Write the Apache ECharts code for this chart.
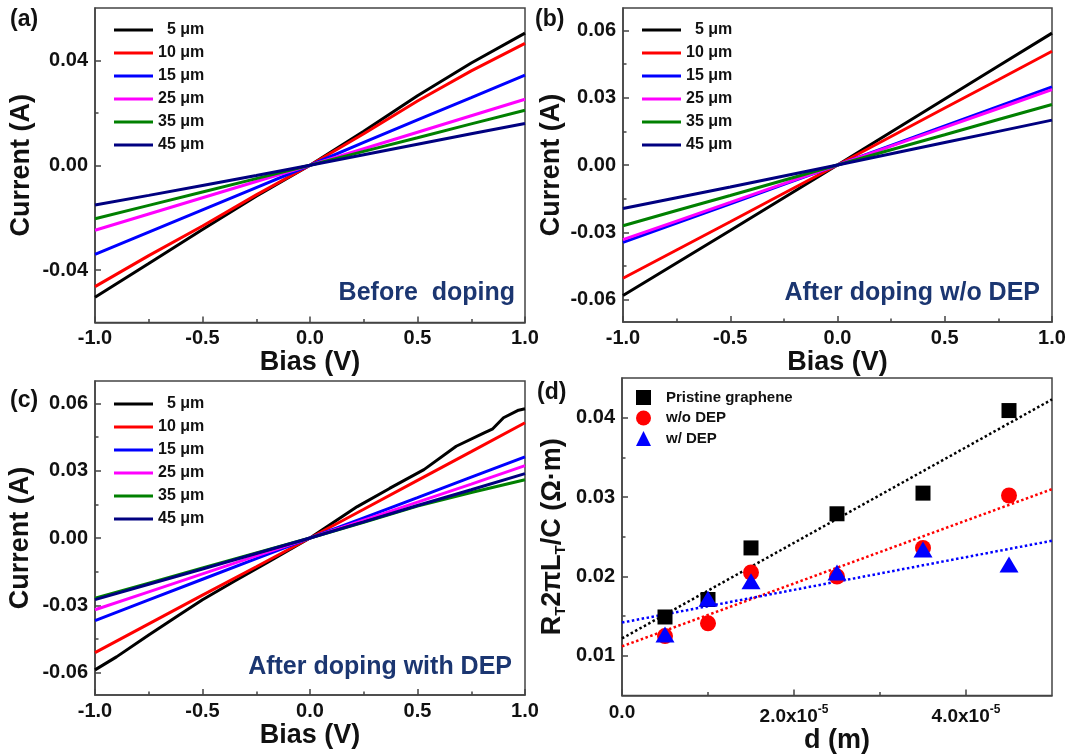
<!DOCTYPE html>
<html>
<head>
<meta charset="utf-8">
<script src="https://cdn.jsdelivr.net/npm/echarts@6/dist/echarts.min.js"></script>
<style>
html, body { margin: 0; padding: 0; background: #fff; }
#chart { width: 1072px; height: 755px; }
</style>
</head>
<body>
<div id="chart"></div>
<script>
// I-V sweeps, bias in V, current in A
var biasV = [-1, -0.75, -0.5, -0.25, 0, 0.25, 0.5, 0.75, 1];
var widths = ['5 μm', '10 μm', '15 μm', '25 μm', '35 μm', '45 μm'];
var lineColors = ['#000000', '#ff0000', '#0000ff', '#ff00ff', '#008000', '#000080'];

// (a) before doping
var curA5  = [-0.0504, -0.0375, -0.0245, -0.0118, 0, 0.0130, 0.0265, 0.0390, 0.0504];
var curA10 = [-0.0463, -0.0345, -0.0232, -0.0113, 0, 0.0120, 0.0245, 0.0360, 0.0465];
var curA15 = [-0.0340, -0.0255, -0.0170, -0.0085, 0, 0.0087, 0.0173, 0.0258, 0.0344];
var curA25 = [-0.0248, -0.0186, -0.0124, -0.0062, 0, 0.0063, 0.0126, 0.0189, 0.0252];
var curA35 = [-0.0204, -0.0153, -0.0102, -0.0051, 0, 0.0053, 0.0105, 0.0158, 0.0210];
var curA45 = [-0.0152, -0.0115, -0.0077, -0.0039, 0, 0.0040, 0.0080, 0.0120, 0.0159];

// (b) after doping w/o DEP
var curB5  = [-0.0582, -0.0437, -0.0292, -0.0146, 0, 0.0147, 0.0294, 0.0441, 0.0588];
var curB10 = [-0.0505, -0.0379, -0.0253, -0.0126, 0, 0.0127, 0.0254, 0.0380, 0.0507];
var curB15 = [-0.0345, -0.0259, -0.0173, -0.0086, 0, 0.0087, 0.0174, 0.0261, 0.0348];
var curB25 = [-0.0333, -0.0250, -0.0167, -0.0083, 0, 0.0084, 0.0168, 0.0252, 0.0336];
var curB35 = [-0.0271, -0.0203, -0.0136, -0.0068, 0, 0.0068, 0.0135, 0.0203, 0.0270];
var curB45 = [-0.0194, -0.0146, -0.0098, -0.0049, 0, 0.0050, 0.0100, 0.0150, 0.0200];

// (c) after doping with DEP (5 um trace is noisy, so it has its own bias points)
var curC5V = [-1, -0.9, -0.75, -0.6, -0.5, -0.35, -0.2, 0, 0.22, 0.37, 0.53, 0.68, 0.81, 0.85, 0.9, 0.97, 1];
var curC5  = [-0.0588, -0.0530, -0.0432, -0.0338, -0.0275, -0.0192, -0.0110, 0, 0.0140, 0.0221, 0.0305, 0.0409, 0.0469, 0.0487, 0.0536, 0.0570, 0.0576];
var curC10 = [-0.0511, -0.0383, -0.0255, -0.0128, 0, 0.0128, 0.0257, 0.0385, 0.0514];
var curC15 = [-0.0368, -0.0276, -0.0184, -0.0092, 0, 0.0090, 0.0180, 0.0271, 0.0362];
var curC25 = [-0.0320, -0.0240, -0.0160, -0.0080, 0, 0.0080, 0.0160, 0.0240, 0.0323];
var curC35 = [-0.0268, -0.0201, -0.0134, -0.0067, 0, 0.0070, 0.0142, 0.0203, 0.0260];
var curC45 = [-0.0275, -0.0206, -0.0138, -0.0069, 0, 0.0072, 0.0145, 0.0215, 0.0287];

// (d) RT*2*pi*LT/C vs channel length
var dM = [5e-6, 1e-5, 1.5e-5, 2.5e-5, 3.5e-5, 4.5e-5];
var rtPristine = [0.0149, 0.0171, 0.0236, 0.0279, 0.0305, 0.0409];
var rtWoDep    = [0.0125, 0.0141, 0.0205, 0.0200, 0.0236, 0.0302];
var rtWDep     = [0.0127, 0.0172, 0.0194, 0.0205, 0.0234, 0.0215];
var fitX = [0, 5e-5];
var fitPristine = [0.0122, 0.0423];
var fitWoDep    = [0.0112, 0.0310];
var fitWDep     = [0.0142, 0.0245];

// tick values
var biasTicks = [-1, -0.5, 0, 0.5, 1];
var biasMinor = [-0.75, -0.25, 0.25, 0.75];
var curTicksA = [-0.04, 0, 0.04];
var curMinorA = [-0.02, 0.02];
var curTicksBC = [-0.06, -0.03, 0, 0.03, 0.06];
var curMinorBC = [-0.045, -0.015, 0.015, 0.045];
var dTicks = [0, 2e-5, 4e-5];
var dMinor = [1e-5, 3e-5];
var rtTicks = [0.01, 0.02, 0.03, 0.04];
var rtMinor = [0.015, 0.025, 0.035];

var FONT = '"Liberation Sans", Arial, sans-serif';
var AXIS_COLOR = '#444';

function pairs(xs, ys) {
    return xs.map(function (x, i) { return [x, ys[i]]; });
}

function mainAxis(grid, pos, min, max, ticks, fmt, name, gap) {
    return {
        type: 'value', gridIndex: grid, position: pos, min: min, max: max,
        splitLine: { show: false },
        axisLine: { show: true, onZero: false, lineStyle: { color: AXIS_COLOR, width: 1.5 } },
        axisTick: { show: true, inside: true, length: 6, customValues: ticks, lineStyle: { color: AXIS_COLOR, width: 1.5 } },
        axisLabel: {
            customValues: ticks, formatter: fmt, margin: pos === 'left' ? 7 : 6,
            fontFamily: FONT, fontWeight: 'bold', fontSize: 20, color: '#111'
        },
        name: name, nameLocation: 'middle', nameGap: gap,
        nameTextStyle: { fontFamily: FONT, fontWeight: 'bold', fontSize: 27, color: '#111' }
    };
}

// second axis on the same side, only for the short minor ticks
function minorAxis(grid, pos, min, max, ticks) {
    return {
        type: 'value', gridIndex: grid, position: pos, min: min, max: max,
        splitLine: { show: false },
        axisLine: { show: false, onZero: false },
        axisLabel: { show: false },
        axisTick: { show: true, inside: true, length: 3.5, customValues: ticks, lineStyle: { color: AXIS_COLOR, width: 1.5 } }
    };
}

function fmt1(v) { return v.toFixed(1); }
function fmt2(v) { return v.toFixed(2); }
function fmtD(v) {
    if (v === 0) return '{m|0.0}';
    return '{m|' + (v * 1e5).toFixed(1) + 'x10}{e|-5}';
}

var chart = echarts.init(document.getElementById('chart'));

var grids = [
    { left: 95, top: 8, width: 430, height: 314.5 },
    { left: 623, top: 8, width: 429, height: 314 },
    { left: 95, top: 381, width: 430, height: 314 },
    { left: 622, top: 378, width: 430, height: 318 }
];
grids.forEach(function (g) {
    g.show = true;
    g.borderColor = AXIS_COLOR;
    g.borderWidth = 1.5;
    g.backgroundColor = 'transparent';
});

var xAxes = [
    mainAxis(0, 'bottom', -1, 1, biasTicks, fmt1, 'Bias (V)', 23),
    mainAxis(1, 'bottom', -1, 1, biasTicks, fmt1, 'Bias (V)', 23),
    mainAxis(2, 'bottom', -1, 1, biasTicks, fmt1, 'Bias (V)', 24),
    mainAxis(3, 'bottom', 0, 5e-5, dTicks, fmtD, 'd (m)', 30),
    minorAxis(0, 'bottom', -1, 1, biasMinor),
    minorAxis(1, 'bottom', -1, 1, biasMinor),
    minorAxis(2, 'bottom', -1, 1, biasMinor),
    minorAxis(3, 'bottom', 0, 5e-5, dMinor)
];
xAxes[3].axisLabel.margin = 8;
xAxes[3].axisLabel.rich = {
    m: { fontFamily: FONT, fontWeight: 'bold', fontSize: 19, color: '#111' },
    e: { fontFamily: FONT, fontWeight: 'bold', fontSize: 12, color: '#111', padding: [0, 0, 14, 0] }
};

var yAxes = [
    mainAxis(0, 'left', -0.06, 0.06, curTicksA, fmt2, 'Current (A)', 60),
    mainAxis(1, 'left', -0.07, 0.07, curTicksBC, fmt2, 'Current (A)', 58),
    mainAxis(2, 'left', -0.07, 0.07, curTicksBC, fmt2, 'Current (A)', 61),
    mainAxis(3, 'left', 0.005, 0.045, rtTicks, fmt2, '{a|R}{s|T}{a|2πL}{s|T}{a|/C (Ω·m)}', 54),
    minorAxis(0, 'left', -0.06, 0.06, curMinorA),
    minorAxis(1, 'left', -0.07, 0.07, curMinorBC),
    minorAxis(2, 'left', -0.07, 0.07, curMinorBC),
    minorAxis(3, 'left', 0.005, 0.045, rtMinor)
];
yAxes[3].nameTextStyle.rich = {
    a: { fontFamily: FONT, fontWeight: 'bold', fontSize: 27, color: '#111' },
    s: { fontFamily: FONT, fontWeight: 'bold', fontSize: 15, color: '#111', padding: [16, 0, 0, 0] }
};

var ivPanels = [
    [curA5, curA10, curA15, curA25, curA35, curA45],
    [curB5, curB10, curB15, curB25, curB35, curB45],
    [curC5, curC10, curC15, curC25, curC35, curC45]
];

var series = [];
ivPanels.forEach(function (panel, p) {
    panel.forEach(function (vals, k) {
        var data = (p === 2 && k === 0) ? pairs(curC5V, curC5) : pairs(biasV, vals);
        series.push({
            type: 'line', name: widths[k], xAxisIndex: p, yAxisIndex: p,
            data: data, showSymbol: false, symbol: 'none',
            lineStyle: { color: lineColors[k], width: 3 },
            itemStyle: { color: lineColors[k] }
        });
    });
});

var fits = [[fitPristine, '#000000'], [fitWoDep, '#ff0000'], [fitWDep, '#0000ff']];
fits.forEach(function (f) {
    series.push({
        type: 'line', xAxisIndex: 3, yAxisIndex: 3, data: pairs(fitX, f[0]),
        showSymbol: false, symbol: 'none', z: 1,
        lineStyle: { color: f[1], width: 2.5, type: 'dotted' }
    });
});
series.push({
    type: 'scatter', name: 'Pristine graphene', xAxisIndex: 3, yAxisIndex: 3,
    data: pairs(dM, rtPristine), symbol: 'rect', symbolSize: 15, itemStyle: { color: '#000000', opacity: 1 }
});
series.push({
    type: 'scatter', name: 'w/o DEP', xAxisIndex: 3, yAxisIndex: 3,
    data: pairs(dM, rtWoDep), symbol: 'circle', symbolSize: 16, itemStyle: { color: '#ff0000', opacity: 1 }
});
series.push({
    type: 'scatter', name: 'w/ DEP', xAxisIndex: 3, yAxisIndex: 3,
    data: pairs(dM, rtWDep), symbol: 'triangle', symbolSize: [19, 16], itemStyle: { color: '#0000ff', opacity: 1 }
});

function ivLegend(left, top) {
    return {
        data: widths, orient: 'vertical', left: left, top: top, padding: 0,
        icon: 'rect', itemWidth: 39, itemHeight: 3, itemGap: 5,
        selectedMode: false,
        formatter: function (name) { return name === '5 μm' ? '  5 μm' : name; },
        textStyle: { fontFamily: FONT, fontWeight: 'bold', fontSize: 16, lineHeight: 18, color: '#111' }
    };
}

var legends = [
    ivLegend(114, 21),
    ivLegend(642, 21),
    ivLegend(114, 395),
    {
        data: ['Pristine graphene', 'w/o DEP', 'w/ DEP'], orient: 'vertical', left: 636, top: 389, padding: 0,
        itemWidth: 15, itemHeight: 15, itemGap: 3.5, selectedMode: false,
        textStyle: { fontFamily: FONT, fontWeight: 'bold', fontSize: 15, lineHeight: 17, color: '#111', padding: [0, 0, 0, 10] }
    }
];

function label(x, y, text) {
    return { type: 'text', x: x, y: y, style: { text: text, fill: '#111', font: 'bold 23px ' + FONT } };
}
function note(x, y, text) {
    return {
        type: 'text', x: x, y: y,
        style: { text: text, fill: '#1b3671', font: 'bold 25px ' + FONT, align: 'right', verticalAlign: 'middle' }
    };
}

chart.setOption({
    animation: false,
    backgroundColor: '#ffffff',
    grid: grids,
    xAxis: xAxes,
    yAxis: yAxes,
    legend: legends,
    series: series,
    graphic: [
        label(10, 8, '(a)'),
        label(535, 8, '(b)'),
        label(10, 389, '(c)'),
        label(537, 381, '(d)'),
        note(515, 293, 'Before  doping'),
        note(1040, 293, 'After doping w/o DEP'),
        note(512, 667, 'After doping with DEP')
    ]
});
</script>
</body>
</html>
